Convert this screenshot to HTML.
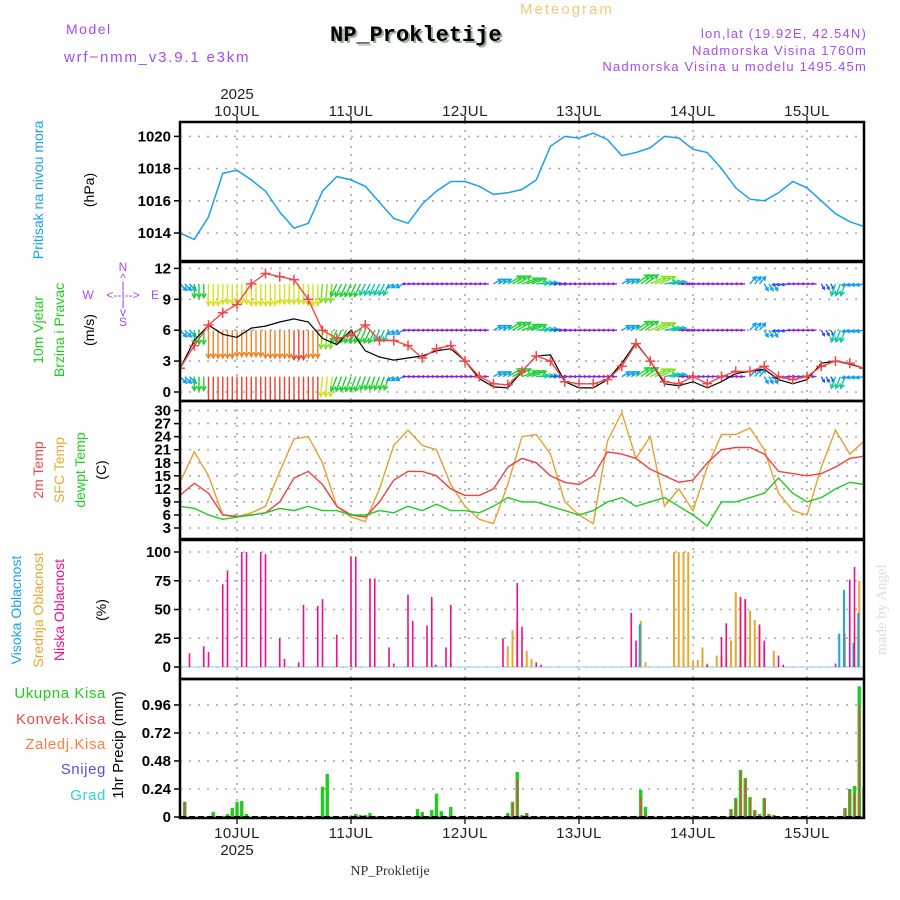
<!DOCTYPE html>
<html><head><meta charset="utf-8"><style>
html,body{margin:0;padding:0;background:#fff;}
svg{display:block;font-family:"Liberation Sans",sans-serif;}
</style></head><body>
<svg id="c" width="900" height="900" viewBox="0 0 900 900" xmlns="http://www.w3.org/2000/svg">
<rect width="900" height="900" fill="#fff"/>
<text x="66" y="34" fill="#a54cf0" font-size="14" letter-spacing="1.5">Model</text>
<text x="64" y="62" fill="#a54cf0" font-size="15" letter-spacing="1.8">wrf−nmm_v3.9.1 e3km</text>
<text x="332" y="43" fill="#9ab09a" font-size="22" font-weight="bold" font-family="Liberation Mono, monospace">NP_Prokletije</text>
<text x="330" y="41" fill="#000" font-size="22" font-weight="bold" font-family="Liberation Mono, monospace">NP_Prokletije</text>
<text x="520" y="14" fill="#f2c878" font-size="15" letter-spacing="2">Meteogram</text>
<text x="867" y="38" fill="#a54cf0" font-size="13" text-anchor="end" letter-spacing="1.2">lon,lat (19.92E, 42.54N)</text>
<text x="867" y="55" fill="#a54cf0" font-size="13" text-anchor="end" letter-spacing="1.2">Nadmorska Visina 1760m</text>
<text x="867" y="71" fill="#a54cf0" font-size="13" text-anchor="end" letter-spacing="1.2">Nadmorska Visina u modelu 1495.45m</text>
<text x="390" y="875" fill="#333" font-size="14" text-anchor="middle" font-family="Liberation Serif, serif">NP_Prokletije</text>
<text transform="translate(886,655) rotate(-90)" fill="#d8e0d8" font-size="15" font-family="Liberation Serif, serif">made by Angel</text>
<g id="g"></g>
</svg>
<script>
// ---- data (hours since 9 JUL 12:00, 3-hourly) ----
const hours3 = [0,3,6,9,12,15,18,21,24,27,30,33,36,39,42,45,48,51,54,57,60,63,66,69,72,75,78,81,84,87,90,93,96,99,102,105,108,111,114,117,120,123,126,129,132,135,138,141,144];
const dayLabels = ["10JUL","11JUL","12JUL","13JUL","14JUL","15JUL"];
const dayHours = [12,36,60,84,108,132];
const pressure = [1014.0,1013.6,1015.0,1017.7,1017.9,1017.3,1016.6,1015.3,1014.3,1014.6,1016.6,1017.5,1017.3,1016.9,1015.9,1014.9,1014.6,1015.8,1016.6,1017.2,1017.2,1016.9,1016.4,1016.5,1016.7,1017.3,1019.4,1020.0,1019.9,1020.2,1019.8,1018.8,1019.0,1019.3,1020.0,1019.9,1019.2,1019.0,1018.0,1016.8,1016.1,1016.0,1016.5,1017.2,1016.8,1016.0,1015.2,1014.7,1014.4];
const pressureTicks = [1014,1016,1018,1020];
const temp2m = [10.5,13.3,11,6,5.7,6,6.5,9,14.5,16,13,8,6,5.5,9,14,16,16,15,12,10.5,10.5,12,17,19,18,15,13.5,13,15,20.5,20,19,16.5,15,13.5,14,18,21,21.5,21.5,20,16,15.5,15,15.5,17,19,19.5];
const tempSfc = [13.5,20.5,15,6,5.5,6.5,8,16,23.5,24,18,8,5.5,4.5,12,22,25.5,22,21,13,8,5,4,13,24,24.5,20,9,6,4,23,29.5,19,24,8,12,7,17,24.5,24.5,26,21,11,7,6,17,25.5,20,23];
const dewpt = [8,7.5,6,5,5.5,6,6.5,7.5,7,8,7,7,6,6,7,6.5,8,7,8.5,7,7,6.5,8,10,9,9,8,7,6,7,9,10,8,9,10,8,6,3.5,9,9,10,11,14.5,11,9,10,12,13.5,13];
const tempTicks = [3,6,9,12,15,18,21,24,27,30];
const wind10 = [2.3,4.5,6.5,7.7,8.5,10.5,11.5,11.2,10.9,9,6,5.2,5.5,6.5,5,5,4.5,3.3,4.2,4.5,3,1.5,0.8,0.7,2,3.5,3,1,0.8,0.8,1.2,2.5,4.7,3,1,0.8,1.5,0.8,1.5,2,2,2.5,1.5,1.2,1.5,2.5,3,2.8,2.3];
const windAlt = [2.3,5,6.5,5.6,5.3,6.2,6.4,6.8,7.1,6.8,5.2,4.6,6,4,3.4,3.1,3.3,3.5,4,4.2,3,1.3,0.5,0.4,2,3.5,3.6,1,0.4,0.4,1.2,2.8,4.8,3,0.8,0.6,1,0.4,1,1.8,2,2.2,1.2,0.8,1.2,2.8,3,2.7,2.3];
const windTicks = [0,3,6,9,12];
// barb rows: speed (m/s) and direction (deg, from)
const barbTopSpeed = [6,9,14,13,13,14,14,13,13,14,12,9,9,8,8,5,3,3,3,3,3,3,6,10,10,8,4,3,3,3,3,6,10,11,8,3,3,3,3,3,6,5,4,3,3,4,8,5,5];
const barbTopDir   = [315,0,0,0,0,0,0,0,0,0,5,25,25,25,25,60,90,90,90,90,90,90,240,240,250,265,270,90,90,90,90,240,235,245,260,270,90,90,90,90,220,330,80,90,90,330,20,80,80];
const barbMidSpeed = [6,9,18,18,17,17,18,18,19,18,12,9,9,9,8,5,3,3,3,3,3,3,6,10,10,8,4,3,3,3,3,6,10,11,8,3,3,3,3,3,6,5,4,3,3,4,8,5,5];
const barbMidDir   = [315,0,0,0,0,0,0,0,0,0,5,25,25,25,25,60,90,90,90,90,90,90,240,240,250,265,270,90,90,90,90,240,235,245,260,270,90,90,90,90,220,330,80,90,90,330,20,80,80];
const barbLowSpeed = [6,9,20,20,21,21,20,20,19,19,13,10,10,9,9,5,3,3,3,3,3,3,6,10,10,8,4,3,3,3,3,6,10,11,8,3,3,3,3,3,6,5,4,3,3,4,8,5,5];
const barbLowDir   = [315,0,0,0,0,0,0,0,0,0,5,20,20,20,20,60,90,90,90,90,90,90,240,240,250,265,270,90,90,90,90,240,235,245,260,270,90,90,90,90,220,330,80,90,90,330,20,80,80];
// clouds: hour, percent
const lowCloudHours = [2,5,6,9,10,13,14,17,18,21,22,25,26,29,30,33,36,37,40,41,44,45,48,49,52,53,56,57,68,71,72,75,76,95,96,111,114,115,118,119,122,123,126,127,138,141,142];
const lowCloudVals  = [12,18,13,72,84,100,100,100,98,25,7,4,54,53,59,28,96,96,77,77,17,3,63,40,36,61,17,54,25,73,35,4,2,47,23,2,26,38,61,59,37,23,10,2,3,76,87];
const midCloudHours = [54,57,69,70,71,73,74,96,97,98,104,105,106,107,108,109,110,111,113,114,115,116,117,118,119,120,121,122,123,125,140,143];
const midCloudVals  = [2,3,18,32,39,14,7,3,40,4,100,100,100,100,5,6,17,3,10,10,7,23,65,61,59,49,41,35,18,14,29,75];
const highCloudHours = [54,97,139,140,142,143];
const highCloudVals  = [2,37,29,67,21,47];
const cloudTicks = [0,25,50,75,100];
// precipitation: hour, total, convective (mm)
const precipHours = [1,7,9,10,11,12,13,14,27,30,31,35,36,37,38,39,40,41,50,51,53,54,55,57,69,70,71,72,73,96,97,98,116,117,118,119,120,121,122,123,124,125,140,141,142,143,144];
const precipTotal = [0.13,0.043,0.01,0.026,0.077,0.13,0.137,0.026,0.01,0.26,0.37,0.01,0.01,0.026,0.017,0.017,0.034,0.01,0.069,0.043,0.06,0.2,0.05,0.086,0.034,0.13,0.386,0.017,0.034,0.01,0.232,0.086,0.069,0.163,0.403,0.334,0.171,0.06,0.026,0.163,0.026,0.017,0.077,0.24,0.266,1.12,0.26];
const precipConv  = [0.13,0,0,0,0,0,0,0,0,0,0,0,0,0,0,0,0,0,0,0.02,0,0,0,0,0.03,0.12,0.32,0,0.034,0,0.17,0.03,0.06,0.15,0.39,0.32,0.16,0.05,0.02,0.16,0.02,0.017,0.07,0.23,0.2,0.96,0.22];
const precipTicks = [0,0.24,0.48,0.72,0.96];
const precipTickLabels = ["0","0.24","0.48","0.72","0.96"];

// ---- layout ----
const NS="http://www.w3.org/2000/svg";
const G=document.getElementById('g');
const X0=180,X1=864,H0=0,H1=144;
const xs=h=>X0+(h-H0)*(X1-X0)/(H1-H0);
const panels={
 p:{top:122,bot:261,y:v=>233-(v-1014)*16.1},
 w:{top:262,bot:401,y:v=>392-v*10.3},
 t:{top:401,bot:539,y:v=>528-(v-3)*4.35},
 c:{top:540,bot:679,y:v=>667-v*1.15},
 r:{top:679,bot:818,y:v=>817-v*116.7}
};
function el(tag,attrs,parent){const e=document.createElementNS(NS,tag);for(const k in attrs)e.setAttribute(k,attrs[k]);(parent||G).appendChild(e);return e;}
function txt(s,attrs,parent){const e=el('text',attrs,parent);e.textContent=s;return e;}

const defs=el('defs',{});
for(const k in panels){const cp=el('clipPath',{id:'clip-'+k},defs);el('rect',{x:X0,y:panels[k].top,width:X1-X0,height:panels[k].bot-panels[k].top},cp);}

function panelFrame(k,ticks,labels,name){
 const P=panels[k];
 const g=el('g',{});
 
 
 ticks.forEach((t,i)=>{
  const y=P.y(t);
  const gl=el('line',{x1:X0,x2:X1,y1:y,y2:y,stroke:'#aaa','stroke-width':1.6,'stroke-dasharray':'2,7'},g);
  
  
  el('line',{x1:X0-6,x2:X0,y1:y,y2:y,stroke:'#000','stroke-width':1.5},g);
  const tl=txt(labels?labels[i]:String(t),{x:X0-9,y:y+5,'text-anchor':'end','font-size':15,'font-weight':'bold',fill:'#000'},g);
  
  
 });
 dayHours.forEach(h=>{
  const x=xs(h);
  const vl=el('line',{x1:x,x2:x,y1:P.top,y2:P.bot,stroke:'#aaa','stroke-width':1.6,'stroke-dasharray':'2,6'},g);
  
  
 });
}
panelFrame('p',pressureTicks,null,'pressure');
panelFrame('w',windTicks,null,'wind');
panelFrame('t',tempTicks,null,'temperature');
panelFrame('c',cloudTicks,null,'cloud');
panelFrame('r',precipTicks,precipTickLabels,'precip');

function line(k,vals,color,name,w){
 const P=panels[k];
 const pts=hours3.map((h,i)=>xs(h).toFixed(1)+','+P.y(vals[i]).toFixed(1)).join(' ');
 const pl=el('polyline',{points:pts,fill:'none',stroke:color,'stroke-width':w||1.4,'clip-path':'url(#clip-'+k+')'});
 
 
 return pl;
}
line('p',pressure,'#1aa0f0','pressure-line',1.5);
line('t',tempSfc,'#e8a030','sfc-temp-line');
line('t',temp2m,'#f04040','temp-2m-line');
line('t',dewpt,'#20cc20','dewpoint-line');

function spdColor(s){
 if(s<3.5)return '#8a1ee8'; if(s<5)return '#3050ff'; if(s<7)return '#10a0f0'; if(s<9)return '#10c8a0';
 if(s<11)return '#20d030'; if(s<13)return '#80e020'; if(s<15)return '#d8e020'; if(s<17)return '#f0b020';
 if(s<19)return '#f08020'; return '#f04030';
}
function barbRow(base,speeds,dirs,name){
 const g=el('g',{'clip-path':'url(#clip-w)'});
 
 
 const y0=panels.w.y(base);
 for(let h=0;h<=H1;h++){
  const i=Math.min(speeds.length-1,Math.floor(h/3));
  const s=speeds[i],d=dirs[i]*Math.PI/180;
  const L=Math.max(5,s*1.55);
  const x=xs(h),dx=-Math.sin(d)*L,dy=Math.cos(d)*L;
  const c=spdColor(s);
  const ex=x+dx,ey=y0+dy;
  const a=Math.atan2(dy,dx);
  const hl=Math.min(5,L*0.45);
  const hx1=ex-hl*Math.cos(a-0.5),hy1=ey-hl*Math.sin(a-0.5),hx2=ex-hl*Math.cos(a+0.5),hy2=ey-hl*Math.sin(a+0.5);
  const p=el('path',{d:`M${x.toFixed(1)},${y0.toFixed(1)}L${ex.toFixed(1)},${ey.toFixed(1)}M${hx1.toFixed(1)},${hy1.toFixed(1)}L${ex.toFixed(1)},${ey.toFixed(1)}L${hx2.toFixed(1)},${hy2.toFixed(1)}`,stroke:c,'stroke-width':1.4,fill:'none'},g);
  
  
 }
}
barbRow(10.5,barbTopSpeed,barbTopDir,'wind-arrows-upper');
barbRow(6,barbMidSpeed,barbMidDir,'wind-arrows-middle');
barbRow(1.5,barbLowSpeed,barbLowDir,'wind-arrows-lower');
line('w',windAlt,'#000','wind-alt-line',1.2);
line('w',wind10,'#f04848','wind-10m-line',1.4);
{
 const g=el('g',{'clip-path':'url(#clip-w)'});
 
 
 hours3.forEach((h,i)=>{
  const x=xs(h),y=panels.w.y(wind10[i]);
  const m=el('path',{d:`M${x-5},${y}H${x+5}M${x},${y-5}V${y+5}`,stroke:'#f04848','stroke-width':1.5},g);
  
  
 });
}

function bars(k,hrs,vals,color,name,off,w){
 const P=panels[k];
 const g=el('g',{'clip-path':'url(#clip-'+k+')'});
 
 
 hrs.forEach((h,i)=>{
  const y=P.y(vals[i]),y0=P.y(0);
  const r=el('rect',{x:xs(h)+off-w/2,y:Math.min(y,y0),width:w,height:Math.abs(y0-y),fill:color},g);
  
  
 });
}
el('line',{x1:X0,x2:X1,y1:panels.c.y(0),y2:panels.c.y(0),stroke:'#a8d4f0','stroke-width':1.2});
bars('c',midCloudHours,midCloudVals,'#e8a830','mid-cloud',0,2);
bars('c',highCloudHours,highCloudVals,'#20a0f0','high-cloud',-1,2);
bars('c',lowCloudHours,lowCloudVals,'#f00c8c','low-cloud',0,1.6);

bars('r',precipHours,precipTotal,'#20cc20','total-precip',0,3.4);
bars('r',precipHours,precipConv,'#f04040','convective-precip',0.3,1.4);
el('line',{x1:X0,x2:X1,y1:panels.r.y(0),y2:panels.r.y(0),stroke:'#000','stroke-width':2,'stroke-dasharray':'6,3'});

for(const k in panels){const P=panels[k];
 const f=el('rect',{x:X0,y:P.top,width:X1-X0,height:P.bot-P.top,fill:'none',stroke:'#000','stroke-width':2.5});
 
 
}
dayHours.forEach((h,i)=>{
 const x=xs(h);
 el('line',{x1:x,x2:x,y1:116,y2:122,stroke:'#000','stroke-width':1.2});
 el('line',{x1:x,x2:x,y1:818,y2:824,stroke:'#000','stroke-width':1.2});
 const t1=txt(dayLabels[i],{x:x,y:116,'text-anchor':'middle','font-size':15,fill:'#222','letter-spacing':0.5});
 
 
 const t2=txt(dayLabels[i],{x:x,y:838,'text-anchor':'middle','font-size':15,fill:'#222','letter-spacing':0.5});
 
 
});
{const a=txt('2025',{x:xs(12),y:99,'text-anchor':'middle','font-size':15,fill:'#222'});
 const b=txt('2025',{x:xs(12),y:855,'text-anchor':'middle','font-size':15,fill:'#222'});}

function vlabel(s,x,y,color,name,size){
 const t=txt(s,{transform:`translate(${x},${y}) rotate(-90)`,'text-anchor':'middle','font-size':size||14,fill:color});
 
 
}
vlabel('Pritisak na nivou mora',43,190,'#1aa0f0','pressure-title');
vlabel('(hPa)',94,190,'#000','pressure-unit');
vlabel('10m Vjetar',43,330,'#20cc20','wind-title-1');
vlabel('Brzina i Pravac',64,330,'#20cc20','wind-title-2');
vlabel('(m/s)',94,330,'#000','wind-unit');
vlabel('2m Temp',43,470,'#f04848','temp-2m-title');
vlabel('SFC Temp',64,470,'#e8a830','temp-sfc-title');
vlabel('dewpt Temp',85,470,'#20cc20','dewpt-title');
vlabel('(C)',106,470,'#000','temp-unit');
vlabel('Visoka Oblacnost',21,610,'#1aa0f0','high-cloud-title');
vlabel('Srednja Oblacnost',43,610,'#e8a830','mid-cloud-title');
vlabel('Niska Oblacnost',64,610,'#f00c8c','low-cloud-title');
vlabel('(%)',106,610,'#000','cloud-unit');
vlabel('1hr Precip (mm)',123,745,'#000','precip-title',15);
[['Ukupna Kisa','#20cc20',698],['Konvek.Kisa','#f04848',724],['Zaledj.Kisa','#f88040',749],['Snijeg','#5050f0',774],['Grad','#30d0d0',800]].forEach(([s,c,y])=>{
 const t=txt(s,{x:106,y:y,'text-anchor':'end','font-size':15,fill:c,'letter-spacing':0.6});
 
 
});
{const g=el('g',{fill:'#a54cf0','font-size':12,'text-anchor':'middle'});
 
 
 txt('N',{x:123,y:271},g);txt('^',{x:123,y:282},g);txt('I',{x:123,y:290},g);
 txt('W',{x:88,y:299},g);txt('<--I-->',{x:123,y:299},g);txt('E',{x:155,y:299},g);
 txt('I',{x:123,y:308},g);txt('v',{x:123,y:316},g);txt('S',{x:123,y:326},g);
}
</script>
</body></html>
